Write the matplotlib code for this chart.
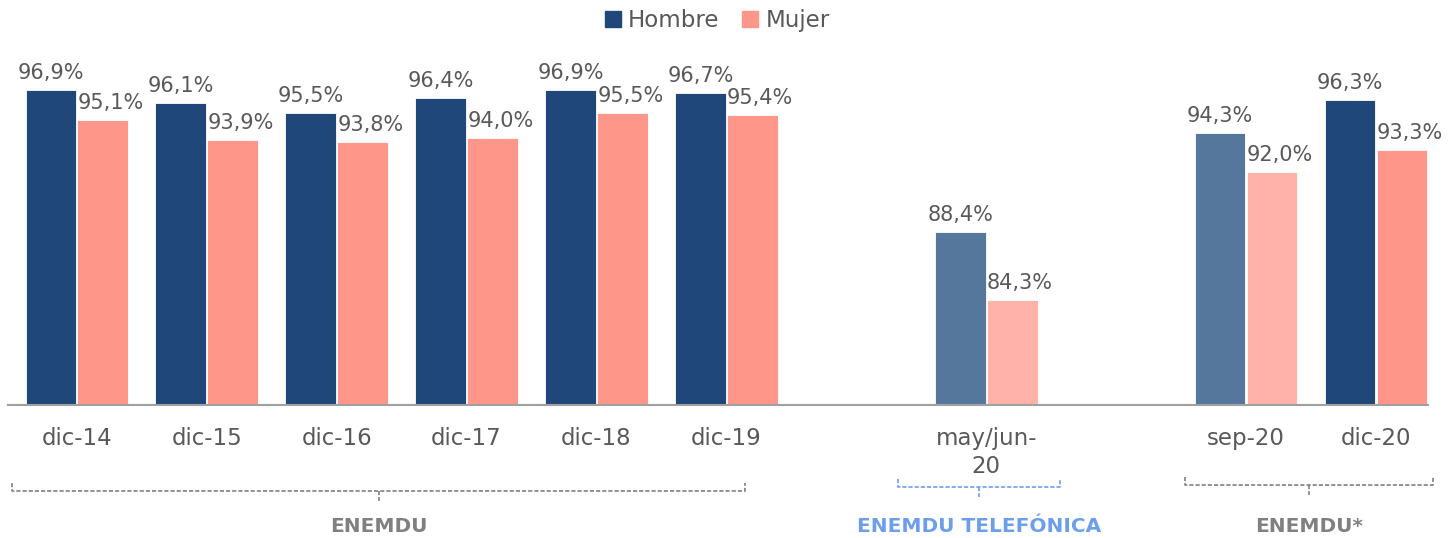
import numpy as np
import matplotlib
matplotlib.use("Agg")
import matplotlib.pyplot as plt
from matplotlib.patches import Patch

categorias = ["dic-14", "dic-15", "dic-16", "dic-17", "dic-18", "dic-19", "",
              "may/jun-\n20", "", "sep-20", "dic-20"]
hombre = [96.9, 96.1, 95.5, 96.4, 96.9, 96.7, None, 88.4, None, 94.3, 96.3]
mujer = [95.1, 93.9, 93.8, 94.0, 95.5, 95.4, None, 84.3, None, 92.0, 93.3]
# periodos con color atenuado (encuestas distintas)
atenuado = ["may/jun-\n20", "sep-20"]

C_H, C_M = "#1F477A", "#FF968A"
C_H2, C_M2 = "#56779C", "#FFB2A9"
GRIS = "#595959"

plt.rcParams["font.family"] = ["DejaVu Sans"]

fig = plt.figure(figsize=(14.49, 5.38), dpi=100)
ax = fig.add_axes([0.0055, 0.2472, 0.98, 0.6818])

x = np.arange(len(categorias))
w = 0.39
for i, cat in enumerate(categorias):
    if hombre[i] is None:
        continue
    ch = C_H2 if cat in atenuado else C_H
    cm = C_M2 if cat in atenuado else C_M
    bh = ax.bar(x[i] - 0.2, hombre[i], w, color=ch, edgecolor="white", linewidth=0.6)
    bm = ax.bar(x[i] + 0.2, mujer[i], w, color=cm, edgecolor="white", linewidth=0.6)
    for b, v, dx in ((bh[0], hombre[i], 0), (bm[0], mujer[i], 0.06)):
        ax.annotate(f"{v:.1f}%".replace(".", ","),
                    (b.get_x() + b.get_width() / 2 + dx, v),
                    xytext=(0, 5), textcoords="offset points",
                    ha="center", va="bottom", fontsize=15, color=GRIS)

ax.set_ylim(78, 100)
ax.set_xlim(-0.53, 10.4)
ax.set_xticks(x)
ax.set_xticklabels(categorias, fontsize=16.5, color=GRIS, linespacing=1.25)
ax.tick_params(axis="x", length=0, pad=16)
ax.set_yticks([])
for s in ["top", "right", "left"]:
    ax.spines[s].set_visible(False)
ax.spines["bottom"].set_color("#A0A0A0")
ax.spines["bottom"].set_linewidth(1.5)

# leyenda
fig.legend(handles=[Patch(color=C_H, label="Hombre"), Patch(color=C_M, label="Mujer")],
           loc="center", bbox_to_anchor=(0.495, 0.962), ncol=2, frameon=False,
           fontsize=16.5, handlelength=0.7, handleheight=0.7, handletextpad=0.3,
           columnspacing=1.0, labelcolor=GRIS)

# llaves punteadas bajo los grupos
def llave(x0, x1, y, color, texto, ty):
    tr = fig.transFigure
    W, H = 1449, 538
    xm = (x0 + x1) / 2
    kw = dict(transform=tr, color=color, lw=1.2, ls=(0, (2.5, 1.2)))
    fig.add_artist(plt.Line2D([x0 / W, x0 / W, x1 / W, x1 / W],
                              [1 - (y - 8) / H, 1 - y / H, 1 - y / H, 1 - (y - 8) / H], **kw))
    fig.add_artist(plt.Line2D([xm / W, xm / W], [1 - y / H, 1 - (y + 10) / H], **kw))
    fig.text(xm / W, 1 - ty / H, texto, ha="center", va="center",
             fontsize=14.5, fontweight="bold", color=color)

llave(12, 745, 491, "#808080", "ENEMDU", 527)
llave(898, 1060, 487, "#6D9EEB", "ENEMDU TELEFÓNICA", 527)
llave(1185, 1433, 485, "#808080", "ENEMDU*", 527)

fig.savefig("out.png", dpi=100)
